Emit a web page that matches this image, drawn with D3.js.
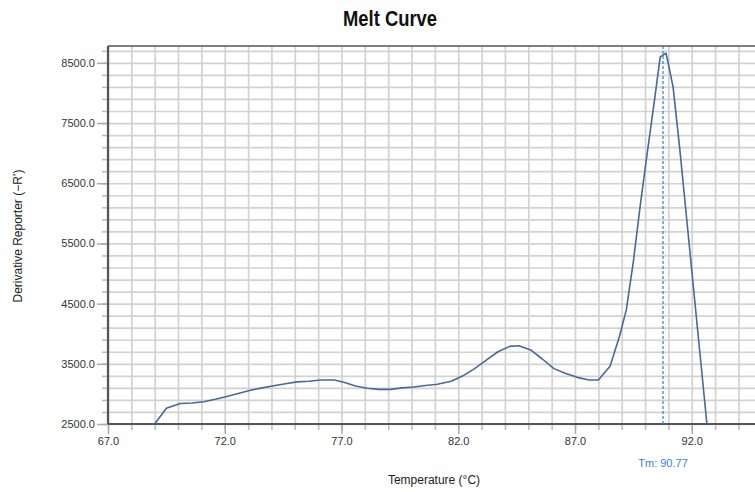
<!DOCTYPE html>
<html>
<head>
<meta charset="utf-8">
<script src="https://cdn.jsdelivr.net/npm/d3@7"></script>
<style>
  body { margin: 0; background: #fff; overflow: hidden; }
  text { font-family: "Liberation Sans", Arial, sans-serif; }
</style>
</head>
<body>
<div id="chart"></div>
<script>
// melt curve
var temps = [69.0, 69.5, 70.1, 70.6, 71.1, 71.6, 72.0, 72.5, 73.1, 73.6, 74.1, 74.6,
  75.1, 75.6, 76.1, 76.7, 77.1, 77.6, 78.1, 78.6, 79.1, 79.6, 80.1, 80.6, 81.1, 81.7,
  82.2, 82.7, 83.2, 83.7, 84.2, 84.6, 85.1, 85.6, 86.1, 86.6, 87.1, 87.6, 88.0, 88.5,
  88.9, 89.2, 89.5, 89.8, 90.1, 90.4, 90.65, 90.9, 91.2, 91.5, 91.8, 92.1, 92.4, 92.65];
var deriv = [2500, 2760, 2840, 2850, 2870, 2910, 2950, 3000, 3060, 3100, 3135, 3170,
  3200, 3210, 3230, 3230, 3195, 3130, 3095, 3075, 3075, 3100, 3115, 3140, 3160, 3210,
  3300, 3420, 3560, 3700, 3790, 3800, 3730, 3580, 3420, 3340, 3275, 3230, 3230, 3460,
  3950, 4400, 5200, 6150, 7020, 7870, 8600, 8660, 8100, 7020, 5840, 4660, 3480, 2500];

var xMajor = [67, 72, 77, 82, 87, 92];
var xGrid = d3.range(67, 96, 1);
var yMajor = [2500, 3500, 4500, 5500, 6500, 7500, 8500];
var yGrid = d3.range(2500, 8780, 200);
var tm = 90.77;

var svgWidth = 755, svgHeight = 492;
var plotLeft = 108, plotTop = 46, plotBottom = 424;

var svg = d3.select("#chart").append("svg")
  .attr("width", svgWidth)
  .attr("height", svgHeight);

var x = d3.scaleLinear().domain([67, 96]).range([plotLeft, plotLeft + 29 * 23.35]);
var y = d3.scaleLinear().domain([2500, 8780]).range([plotBottom, plotTop]);

// grid
svg.append("g")
  .attr("transform", `translate(0,${plotBottom})`)
  .call(d3.axisBottom(x).tickValues(xGrid).tickSize(-(plotBottom - plotTop)).tickFormat(""))
  .call(g => g.select(".domain").remove())
  .call(g => g.selectAll("line").attr("stroke", "#d2d2d2").attr("stroke-width", 1.7));

svg.append("g")
  .attr("transform", `translate(${plotLeft},0)`)
  .call(d3.axisLeft(y).tickValues(yGrid).tickSize(-(svgWidth + 40 - plotLeft)).tickFormat(""))
  .call(g => g.select(".domain").remove())
  .call(g => g.selectAll("line").attr("stroke", "#d2d2d2").attr("stroke-width", 1.7));

// minor ticks
svg.append("g")
  .attr("transform", `translate(0,${plotBottom})`)
  .call(d3.axisBottom(x).tickValues(xGrid).tickSize(6).tickFormat(""))
  .call(g => g.select(".domain").remove())
  .call(g => g.selectAll("line").attr("stroke", "#bbb").attr("stroke-width", 1.5));

svg.append("g")
  .attr("transform", `translate(${plotLeft},0)`)
  .call(d3.axisLeft(y).tickValues(yGrid).tickSize(6).tickFormat(""))
  .call(g => g.select(".domain").remove())
  .call(g => g.selectAll("line").attr("stroke", "#bbb").attr("stroke-width", 1.5));

// major ticks + labels
svg.append("g")
  .attr("transform", `translate(0,${plotBottom})`)
  .call(d3.axisBottom(x).tickValues(xMajor).tickSize(10).tickPadding(3).tickFormat(d3.format(".1f")))
  .call(g => g.select(".domain").remove())
  .call(g => g.selectAll("line").attr("stroke", "#aaa").attr("stroke-width", 1.5))
  .call(g => g.selectAll("text").attr("font-size", 11).attr("fill", "#333")
    .attr("font-family", "'Liberation Sans', Arial, sans-serif"));

svg.append("g")
  .attr("transform", `translate(${plotLeft},0)`)
  .call(d3.axisLeft(y).tickValues(yMajor).tickSize(11).tickPadding(2).tickFormat(d3.format(".1f")))
  .call(g => g.select(".domain").remove())
  .call(g => g.selectAll("line").attr("stroke", "#aaa").attr("stroke-width", 1.5))
  .call(g => g.selectAll("text").attr("font-size", 11).attr("fill", "#333")
    .attr("font-family", "'Liberation Sans', Arial, sans-serif"));

// frame
svg.append("line").attr("x1", plotLeft).attr("x2", svgWidth).attr("y1", plotTop).attr("y2", plotTop)
  .attr("stroke", "#555").attr("stroke-width", 1.5);
svg.append("line").attr("x1", plotLeft).attr("x2", svgWidth).attr("y1", plotBottom).attr("y2", plotBottom)
  .attr("stroke", "#555").attr("stroke-width", 2.2);
svg.append("line").attr("x1", plotLeft).attr("x2", plotLeft).attr("y1", plotTop).attr("y2", plotBottom)
  .attr("stroke", "#555").attr("stroke-width", 2.2);

// curve
var pts = temps.map((t, i) => [t, deriv[i]]);
svg.append("path")
  .datum(pts)
  .attr("fill", "none")
  .attr("stroke", "#46699a")
  .attr("stroke-width", 1.6)
  .attr("stroke-linejoin", "round")
  .attr("d", d3.line().x(d => x(d[0])).y(d => y(d[1])));

// Tm marker
svg.append("line")
  .attr("x1", x(tm)).attr("x2", x(tm))
  .attr("y1", plotTop).attr("y2", plotBottom)
  .attr("stroke", "#2a7bf0")
  .attr("stroke-width", 1.2)
  .attr("stroke-dasharray", "3,2");

svg.append("text")
  .attr("x", x(tm))
  .attr("y", 467)
  .attr("text-anchor", "middle")
  .attr("font-size", 11)
  .attr("fill", "#3a80e8")
  .text("Tm: " + tm.toFixed(2));

// titles
svg.append("text")
  .attr("x", 390)
  .attr("y", 26)
  .attr("text-anchor", "middle")
  .attr("font-size", 22)
  .attr("font-weight", "bold")
  .attr("textLength", 94)
  .attr("lengthAdjust", "spacingAndGlyphs")
  .attr("fill", "#111")
  .text("Melt Curve");

svg.append("text")
  .attr("transform", "translate(22,236) rotate(-90)")
  .attr("text-anchor", "middle")
  .attr("font-size", 12)
  .attr("fill", "#222")
  .text("Derivative Reporter (\u2212R\u2019)");

svg.append("text")
  .attr("x", 434)
  .attr("y", 484)
  .attr("text-anchor", "middle")
  .attr("font-size", 12)
  .attr("fill", "#222")
  .text("Temperature (\u00b0C)");
</script>
</body>
</html>
